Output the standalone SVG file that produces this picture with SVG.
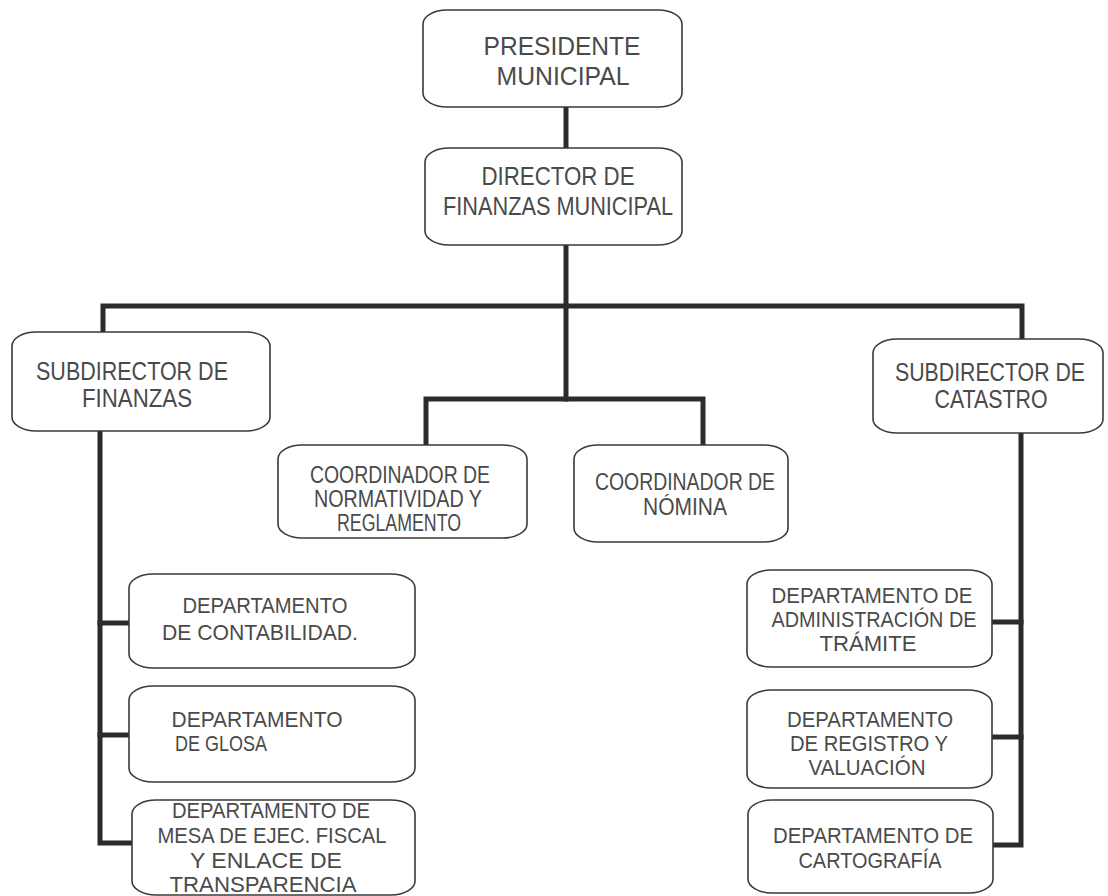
<svg xmlns="http://www.w3.org/2000/svg" width="1108" height="896" viewBox="0 0 1108 896">
  <style>
    .box { fill: #ffffff; stroke: #3a3a3a; stroke-width: 1.6; }
    .link { fill: none; stroke: #2b2b2b; stroke-width: 5; stroke-linejoin: miter; stroke-linecap: square; }
    text { font-family: "Liberation Sans", Arial, sans-serif; fill: #4a4a4a; text-anchor: middle; }
    .t26 { font-size: 26px; }
    .t25 { font-size: 25px; }
    .t24 { font-size: 23px; }
    .t23 { font-size: 22px; }
  </style>
  <rect width="1108" height="896" fill="#ffffff"/>

  <!-- connectors -->
  <g id="connectors">
    <path class="link" d="M566 107 V148"/>
    <path class="link" d="M566 245 V399"/>
    <path class="link" d="M103 332 V306 H1022 V339"/>
    <path class="link" d="M426 445 V399 H703 V445"/>
    <path class="link" d="M100 431 V843 H132"/>
    <path class="link" d="M100 623 H129"/>
    <path class="link" d="M100 735 H129"/>
    <path class="link" d="M1021 433 V845 H993"/>
    <path class="link" d="M1021 622 H992"/>
    <path class="link" d="M1021 737 H992"/>
  </g>

  <g id="presidente">
    <rect class="box" x="423" y="10" width="259" height="97" rx="24" ry="14"/>
    <text class="t26" x="562" y="55" textLength="157" lengthAdjust="spacingAndGlyphs">PRESIDENTE</text>
    <text class="t26" x="563" y="85" textLength="133" lengthAdjust="spacingAndGlyphs">MUNICIPAL</text>
  </g>

  <g id="director">
    <rect class="box" x="425" y="148" width="257" height="97" rx="24" ry="14"/>
    <text class="t26" x="558" y="185" textLength="153" lengthAdjust="spacingAndGlyphs">DIRECTOR DE</text>
    <text class="t26" x="558" y="215" textLength="230" lengthAdjust="spacingAndGlyphs">FINANZAS MUNICIPAL</text>
  </g>

  <g id="subdirector-finanzas">
    <rect class="box" x="12" y="332" width="258" height="99" rx="24" ry="14"/>
    <text class="t25" x="132" y="380" textLength="192" lengthAdjust="spacingAndGlyphs">SUBDIRECTOR DE</text>
    <text class="t25" x="137" y="407" textLength="110" lengthAdjust="spacingAndGlyphs">FINANZAS</text>
  </g>

  <g id="subdirector-catastro">
    <rect class="box" x="873" y="339" width="230" height="94" rx="24" ry="14"/>
    <text class="t25" x="990" y="381" textLength="190" lengthAdjust="spacingAndGlyphs">SUBDIRECTOR DE</text>
    <text class="t25" x="991" y="408" textLength="113" lengthAdjust="spacingAndGlyphs">CATASTRO</text>
  </g>

  <g id="coordinador-normatividad">
    <rect class="box" x="278" y="445" width="249" height="93" rx="24" ry="14"/>
    <text class="t24" x="400" y="483" textLength="180" lengthAdjust="spacingAndGlyphs">COORDINADOR DE</text>
    <text class="t24" x="398" y="507" textLength="168" lengthAdjust="spacingAndGlyphs">NORMATIVIDAD Y</text>
    <text class="t24" x="399" y="531" textLength="124" lengthAdjust="spacingAndGlyphs">REGLAMENTO</text>
  </g>

  <g id="coordinador-nomina">
    <rect class="box" x="574" y="445" width="214" height="97" rx="24" ry="14"/>
    <text class="t24" x="685" y="490" textLength="180" lengthAdjust="spacingAndGlyphs">COORDINADOR DE</text>
    <text class="t24" x="685" y="515" textLength="84" lengthAdjust="spacingAndGlyphs">NÓMINA</text>
  </g>

  <g id="depto-contabilidad">
    <rect class="box" x="129" y="574" width="286" height="94" rx="24" ry="14"/>
    <text class="t23" x="265" y="613" textLength="165" lengthAdjust="spacingAndGlyphs">DEPARTAMENTO</text>
    <text class="t23" x="260" y="640" textLength="196" lengthAdjust="spacingAndGlyphs">DE CONTABILIDAD.</text>
  </g>

  <g id="depto-glosa">
    <rect class="box" x="129" y="686" width="286" height="96" rx="24" ry="14"/>
    <text class="t23" x="257" y="727" textLength="171" lengthAdjust="spacingAndGlyphs">DEPARTAMENTO</text>
    <text class="t23" x="221" y="751" textLength="92" lengthAdjust="spacingAndGlyphs">DE GLOSA</text>
  </g>

  <g id="depto-mesa-ejecucion">
    <rect class="box" x="132" y="800" width="283" height="95" rx="24" ry="14"/>
    <text class="t23" x="271" y="818" textLength="198" lengthAdjust="spacingAndGlyphs">DEPARTAMENTO DE</text>
    <text class="t23" x="272" y="843" textLength="229" lengthAdjust="spacingAndGlyphs">MESA DE EJEC. FISCAL</text>
    <text class="t23" x="266" y="868" textLength="152" lengthAdjust="spacingAndGlyphs">Y ENLACE DE</text>
    <text class="t23" x="263" y="892" textLength="187" lengthAdjust="spacingAndGlyphs">TRANSPARENCIA</text>
  </g>

  <g id="depto-administracion-tramite">
    <rect class="box" x="747" y="570" width="245" height="97" rx="24" ry="14"/>
    <text class="t23" x="872" y="603" textLength="201" lengthAdjust="spacingAndGlyphs">DEPARTAMENTO DE</text>
    <text class="t23" x="874" y="627" textLength="205" lengthAdjust="spacingAndGlyphs">ADMINISTRACIÓN DE</text>
    <text class="t23" x="868" y="651" textLength="97" lengthAdjust="spacingAndGlyphs">TRÁMITE</text>
  </g>

  <g id="depto-registro-valuacion">
    <rect class="box" x="747" y="690" width="245" height="98" rx="24" ry="14"/>
    <text class="t23" x="870" y="727" textLength="166" lengthAdjust="spacingAndGlyphs">DEPARTAMENTO</text>
    <text class="t23" x="869" y="751" textLength="158" lengthAdjust="spacingAndGlyphs">DE REGISTRO Y</text>
    <text class="t23" x="867" y="775" textLength="117" lengthAdjust="spacingAndGlyphs">VALUACIÓN</text>
  </g>

  <g id="depto-cartografia">
    <rect class="box" x="748" y="800" width="245" height="93" rx="24" ry="14"/>
    <text class="t23" x="873" y="843" textLength="200" lengthAdjust="spacingAndGlyphs">DEPARTAMENTO DE</text>
    <text class="t23" x="870" y="868" textLength="143" lengthAdjust="spacingAndGlyphs">CARTOGRAFÍA</text>
  </g>
</svg>
